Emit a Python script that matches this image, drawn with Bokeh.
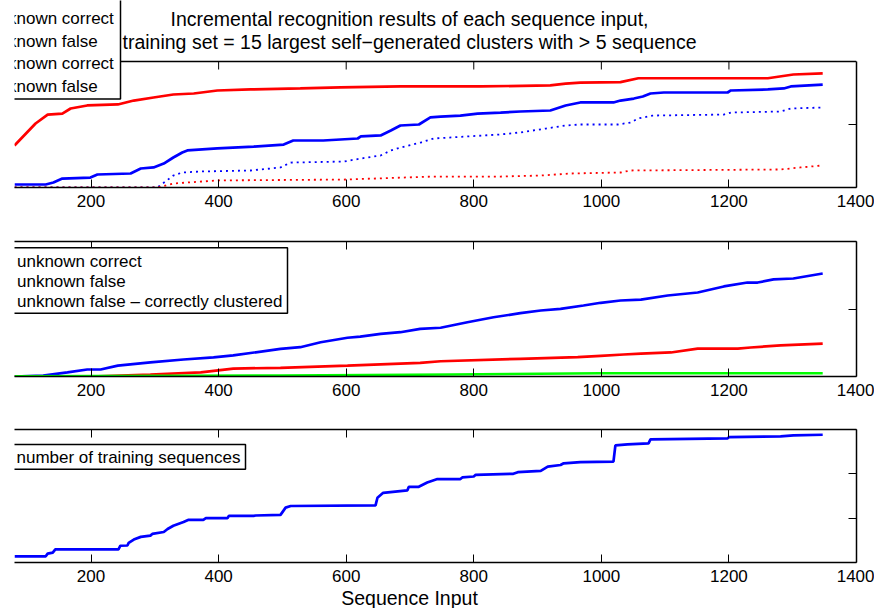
from bokeh.plotting import figure
from bokeh.models import (LinearAxis, FixedTicker, Label, BoxAnnotation, Range1d, Spacer,
                          Span, Title, CustomJSTickFormatter)
from bokeh.layouts import column, row
from bokeh.embed import file_html
from bokeh.resources import INLINE

FONT = "Liberation Sans"

# ---------------- data ----------------
x_ticks = [200, 400, 600, 800, 1000, 1200, 1400]
x_start, x_end = 80, 1400

title_lines = ["Incremental recognition results of each sequence input,",
               "training set = 15 largest self\u2212generated clusters with > 5 sequence"]
x_label = "Sequence Input"

# subplot 1
s1_red_x = [80, 113, 132, 155, 168, 194, 242, 267, 298, 329, 361, 398, 450, 528, 591, 685, 811, 920, 944, 967, 1030, 1058, 1261, 1301, 1347]
s1_red_y = [33.3, 50.8, 57.9, 58.7, 62.7, 65.1, 65.9, 69.0, 71.4, 73.8, 74.6, 77.0, 77.8, 78.6, 79.4, 80.2, 80.2, 81.0, 82.5, 83.3, 83.6, 86.7, 86.7, 89.7, 90.5]

s1_blue_x = [80, 129, 141, 155, 199, 210, 262, 278, 298, 314, 329, 343, 351, 398, 455, 502, 517, 564, 618, 623, 654, 670, 685, 714, 732, 748, 779, 806, 842, 873, 920, 944, 967, 1019, 1030, 1051, 1065, 1077, 1098, 1198, 1203, 1261, 1286, 1297, 1347]
s1_blue_y = [2.4, 2.4, 4.0, 7.1, 7.9, 10.3, 11.1, 15.1, 15.9, 19.0, 23.8, 27.8, 29.4, 31.0, 32.5, 34.1, 37.3, 37.3, 38.9, 40.5, 41.3, 45.2, 49.2, 50.0, 55.6, 56.3, 57.1, 58.7, 59.5, 60.3, 61.1, 65.1, 67.5, 67.5, 69.0, 70.6, 72.2, 74.6, 75.4, 75.4, 77.0, 77.8, 78.6, 80.2, 81.7]

s1_bluedot_x = [80, 304, 329, 343, 372, 450, 497, 513, 596, 623, 654, 670, 685, 717, 737, 842, 873, 913, 944, 967, 1026, 1046, 1058, 1080, 1192, 1203, 1281, 1297, 1347]
s1_bluedot_y = [0, 0, 9.5, 11.9, 12.7, 13.5, 15.9, 19.8, 20.6, 23.0, 25.4, 29.4, 31.7, 35.7, 38.9, 42.1, 43.7, 46.8, 49.2, 50.0, 50.0, 51.6, 54.8, 57.1, 57.9, 59.5, 60.3, 62.7, 63.5]

s1_reddot_x = [80, 304, 329, 398, 596, 737, 842, 905, 952, 1030, 1046, 1281, 1312, 1347]
s1_reddot_y = [0, 0, 3.2, 5.6, 6.3, 8.7, 8.7, 9.5, 11.1, 11.9, 13.5, 14.3, 15.9, 17.5]

s1_legend = ["known correct", "known false", "unknown correct", "unknown false"]

# subplot 2
s2_blue_x = [80, 125, 163, 194, 215, 242, 293, 345, 392, 423, 497, 528, 560, 602, 622, 654, 685, 716, 748, 790, 831, 873, 905, 936, 972, 999, 1030, 1062, 1104, 1151, 1192, 1229, 1245, 1270, 1301, 1347]
s2_blue_y = [0, 0.7, 3.0, 5.2, 5.2, 8.1, 10.4, 12.6, 14.1, 15.6, 20.5, 21.7, 25.4, 28.7, 29.6, 31.6, 32.8, 35.3, 36.1, 40.2, 43.9, 46.9, 48.9, 50.1, 52.6, 54.6, 56.3, 57.0, 60.0, 62.2, 66.7, 69.6, 69.6, 71.9, 72.6, 76.3]

s2_red_x = [80, 199, 293, 372, 423, 497, 602, 716, 748, 873, 963, 999, 1035, 1062, 1109, 1151, 1214, 1234, 1281, 1347]
s2_red_y = [0, 0, 1.5, 3.0, 5.9, 6.4, 8.1, 10.1, 11.3, 13.1, 14.3, 15.3, 16.3, 17.0, 17.8, 20.7, 20.7, 21.5, 23.0, 24.4]

s2_green_x = [80, 497, 764, 999, 1347]
s2_green_y = [0.2, 0.7, 1.5, 2.4, 2.4]

s2_legend = ["unknown correct", "unknown false", "unknown false \u2013 correctly clustered"]

# subplot 3
s3_x = [80, 129, 132, 140, 144, 243, 246, 257, 259, 267, 278, 293, 296, 314, 320, 329, 345, 353, 376, 380, 414, 416, 455, 458, 497, 505, 513, 646, 649, 658, 696, 698, 713, 727, 743, 779, 782, 800, 803, 862, 869, 905, 916, 936, 941, 967, 1019, 1022, 1041, 1074, 1077, 1198, 1200, 1281, 1301, 1347]
s3_y = [7.0, 7.0, 10.0, 11.1, 14.8, 14.8, 18.9, 19.2, 22.2, 25.9, 28.9, 30.3, 32.2, 34.4, 37.8, 41.4, 45.6, 48.1, 48.1, 50.0, 50.0, 52.6, 52.6, 53.0, 53.7, 61.9, 63.7, 64.4, 73.0, 78.6, 81.4, 85.2, 85.2, 90.3, 94.1, 94.1, 95.9, 97.0, 98.9, 100.0, 101.9, 103.3, 108.1, 110.0, 111.9, 113.3, 113.7, 132.2, 133.3, 134.4, 138.9, 140.0, 141.4, 142.2, 143.3, 144.1]

s3_legend = ["number of training sequences"]

# ---------------- layout helpers ----------------
FL, FR = 14, 856   # page px of frame left / right
TICK = 8           # tick length, px
LW = 2.7


def px2x(px):
    return x_start + (px - FL) * (x_end - x_start) / (FR - FL)


def yconv(top, bottom, y_end):
    def f(py):
        return (bottom - py) / (bottom - top) * y_end
    return f


def blank_axis(ticks, **kw):
    return LinearAxis(ticker=FixedTicker(ticks=ticks), major_tick_in=TICK, major_tick_out=0,
                      minor_tick_line_color=None, axis_line_width=1.5,
                      major_label_standoff=0,
                      formatter=CustomJSTickFormatter(code="return ''"), **kw)


def make_fig(height, tb, bb, y_lo, y_hi):
    p = figure(width=860, height=height, x_range=Range1d(x_start, x_end),
               y_range=Range1d(y_lo, y_hi), output_backend="svg", toolbar_location=None,
               y_axis_location=None, min_border_left=0, min_border_right=18,
               min_border_top=tb, min_border_bottom=bb, outline_line_color=None,
               background_fill_color="white", border_fill_color="white")
    p.grid.grid_line_color = None
    ax = p.xaxis[0]
    ax.ticker = FixedTicker(ticks=x_ticks)
    ax.major_tick_in = TICK
    ax.major_tick_out = 0
    ax.minor_tick_line_color = None
    ax.axis_line_width = 1.5
    ax.major_tick_line_width = 1
    ax.major_label_text_font = FONT
    ax.major_label_text_font_size = "17px"
    ax.major_label_text_color = "black"
    ax.major_label_standoff = 7
    return p


def legend_box(p, left, right, top, bottom):
    p.add_layout(BoxAnnotation(left=left, right=right, top=top, bottom=bottom,
                               fill_color="white", fill_alpha=1, line_color="black",
                               line_alpha=1, line_width=1.5))


def add_text(p, x, y, text, size="17px", align="left"):
    p.add_layout(Label(x=x, y=y, text=text, text_font=FONT, text_font_size=size,
                       text_baseline="middle", text_align=align, text_color="black"))


# ---------------- subplot 1 ----------------
# frame reaches the canvas top so the title and legend (drawn above the axes box) are not clipped
y1 = yconv(61, 187, 100)
p1 = make_fig(214, 0, 27, 0, y1(0))
p1.add_layout(blank_axis([50], bounds=(0, 100)), "right")
p1.line(s1_red_x, s1_red_y, color="#ff0000", line_width=LW)
p1.line(s1_blue_x, s1_blue_y, color="#0000ff", line_width=LW)
p1.line(s1_bluedot_x, s1_bluedot_y, color="#0000ff", line_width=1.8, line_dash="2 4")
p1.line(s1_reddot_x, s1_reddot_y, color="#ff0000", line_width=1.8, line_dash="2 4")
# top edge of the axes box with its inward ticks
p1.segment(x0=x_ticks, y0=[100] * len(x_ticks), x1=x_ticks,
           y1=[100 - TICK * 100 / 126] * len(x_ticks), line_color="black", line_width=1)
p1.add_layout(Span(location=100, dimension="width", line_color="black", line_width=1.5))
legend_box(p1, px2x(-30), px2x(120), y1(-10), y1(98.5))
k_start = 7.5
s1_text_x = [k_start, k_start, k_start - 18.9, k_start - 18.9]
s1_text_y = [18, 40.5, 63, 85.5]
for t, tx, ty in zip(s1_legend, s1_text_x, s1_text_y):
    add_text(p1, px2x(tx), y1(ty), t)
for t, ty in zip(title_lines, [18, 41]):
    add_text(p1, px2x(409), y1(ty), t, size="19.5px", align="center")

# ---------------- subplot 2 ----------------
p2 = make_fig(188, 27, 26, 0, 100)
y2 = yconv(241, 376, 100)
p2.add_layout(blank_axis(x_ticks), "above")
p2.add_layout(blank_axis([50]), "right")
p2.line(s2_blue_x, s2_blue_y, color="#0000ff", line_width=LW)
p2.line(s2_red_x, s2_red_y, color="#ff0000", line_width=LW)
p2.line(s2_green_x, s2_green_y, color="#00ff00", line_width=LW)
legend_box(p2, px2x(-30), px2x(287), y2(247.3), y2(312.7))
for t, ty in zip(s2_legend, [260.7, 280.7, 301]):
    add_text(p2, px2x(16.5), y2(ty), t)

# ---------------- subplot 3 ----------------
p3 = make_fig(206, 27, 44, 0, 150)
y3 = yconv(429, 564, 150)
p3.add_layout(blank_axis(x_ticks), "above")
p3.add_layout(blank_axis([50, 100]), "right")
p3.line(s3_x, s3_y, color="#0000ff", line_width=LW)
legend_box(p3, px2x(-30), px2x(245), y3(444.3), y3(469.3))
add_text(p3, px2x(16), y3(457.5), s3_legend[0])
p3.add_layout(Title(text=x_label, align="left", offset=326.7, text_font=FONT,
                    text_font_size="19.5px", text_font_style="normal", text_color="black",
                    standoff=0), "below")

layout = row(Spacer(width=14, height=608), column(p1, p2, p3))

open("out.html", "w").write(file_html(layout, INLINE))
